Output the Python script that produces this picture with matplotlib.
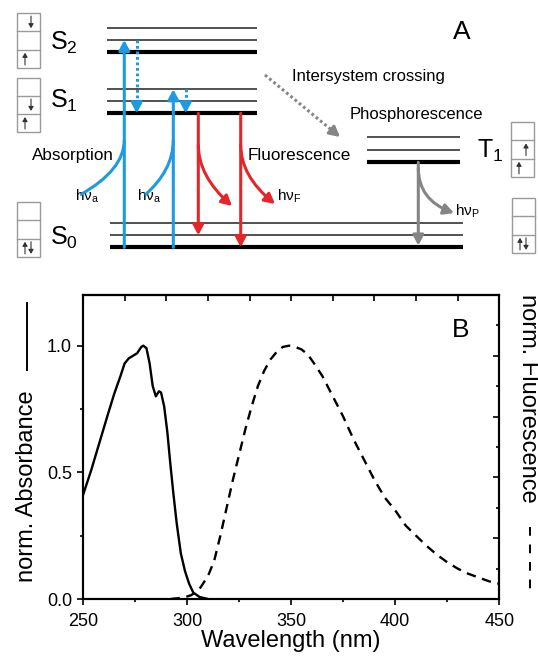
import numpy as np
import matplotlib
matplotlib.use('Agg')
import matplotlib.pyplot as plt
from matplotlib.patches import FancyArrowPatch, PathPatch, Rectangle
from matplotlib.path import Path
from matplotlib.ticker import MultipleLocator

plt.rcParams['font.family'] = ['Liberation Sans', 'DejaVu Sans']
plt.rcParams['mathtext.fontset'] = 'custom'
plt.rcParams['mathtext.rm'] = 'Liberation Sans'
plt.rcParams['mathtext.it'] = 'Liberation Sans:italic'
plt.rcParams['mathtext.default'] = 'regular'

W, H = 538, 656

# ---- panel B: spectra
abs_wl = [250, 254, 258, 262, 265, 268, 270, 272, 274, 276, 278, 279, 280.5,
          282, 283.5, 285, 286.5, 287.5, 289, 290.5, 292, 293.5, 295, 297,
          299, 301, 303, 306, 310]
abs_val = [0.41, 0.51, 0.62, 0.73, 0.81, 0.88, 0.93, 0.95, 0.96, 0.97, 0.995,
           1.0, 0.99, 0.93, 0.84, 0.80, 0.82, 0.815, 0.76, 0.66, 0.53, 0.41,
           0.30, 0.18, 0.11, 0.06, 0.025, 0.008, 0.0]

fl_wl = [292, 298, 302, 306, 310, 313, 316, 319, 322, 325, 328, 331, 334, 337,
         340, 343, 346, 349, 352, 355, 358, 361, 365, 370, 375, 380, 385, 390,
         395, 400, 405, 410, 415, 420, 425, 430, 435, 440, 445, 450]
fl_val = [0.0, 0.005, 0.015, 0.04, 0.09, 0.15, 0.25, 0.36, 0.47, 0.57, 0.67,
          0.76, 0.84, 0.90, 0.945, 0.975, 0.995, 1.0, 0.995, 0.985, 0.965,
          0.93, 0.88, 0.80, 0.72, 0.63, 0.55, 0.47, 0.40, 0.35, 0.29, 0.25,
          0.21, 0.175, 0.145, 0.12, 0.10, 0.085, 0.07, 0.06]

wl_ticks = [250, 300, 350, 400, 450]
wl_top_ticks = [270, 290, 310, 330, 350, 370, 390, 410, 430]
y_ticks = [0.0, 0.5, 1.0]
y_labels = ['0.0', '0.5', '1.0']

# ---- panel A: Jablonski diagram, pixel units from top of figure
s2_levels = [27.7, 40.0, 52.3]
s1_levels = [89.3, 101.0, 113.3]
t1_levels = [137.3, 150.0, 162.3]
s0_levels = [223.3, 235.3, 247.3]

blue = '#1e9be0'
red = '#e3262a'
grey = '#858585'

fig = plt.figure(figsize=(W / 100, H / 100), dpi=100)

# ================= panel B
ax = fig.add_axes([83 / W, 1 - 599 / H, (499.3 - 83) / W, (599 - 295) / H])
ax.plot(abs_wl, abs_val, color='black', lw=1.7)
ax.plot(fl_wl, fl_val, color='black', lw=1.7, dashes=(4, 2.8))
ax.set_xlim(250, 450)
ax.set_ylim(0, 1.2)
ax.set_xticks(wl_ticks)
ax.set_yticks(y_ticks)
ax.set_yticklabels(y_labels)
ax.xaxis.set_minor_locator(MultipleLocator(25))
ax.yaxis.set_minor_locator(MultipleLocator(0.25))
ax.tick_params(which='both', direction='out', width=1.2, labelsize=13)
ax.tick_params(which='major', length=4)
ax.tick_params(which='minor', length=2.5)
ax.tick_params(axis='x', pad=6)
ax.tick_params(axis='y', pad=4)
for s in ax.spines.values():
    s.set_linewidth(1.5)
ax.set_xlabel('Wavelength (nm)', fontsize=17, labelpad=0)

top = ax.secondary_xaxis('top')
top.set_xticks(wl_top_ticks)
top.set_xticklabels([])
top.tick_params(direction='in', length=4, width=1.2)
top.spines['top'].set_linewidth(1.5)

rt = ax.twinx()
rt.set_ylim(0, 5)
rt.yaxis.set_major_locator(MultipleLocator(1))
rt.yaxis.set_minor_locator(MultipleLocator(0.5))
rt.tick_params(which='both', direction='in', width=1.2, labelright=False)
rt.tick_params(which='major', length=4)
rt.tick_params(which='minor', length=2.5)
for s in rt.spines.values():
    s.set_linewidth(1.5)

# ================= overlay in pixel coords (diagram + free labels)
ov = fig.add_axes([0, 0, 1, 1])
ov.set_xlim(0, W)
ov.set_ylim(H, 0)
ov.axis('off')
ov.patch.set_alpha(0)


def levels(ys, x0, x1):
    for i, y in enumerate(ys):
        thick = i == len(ys) - 1
        ov.plot([x0, x1], [y, y], color='black' if thick else '#333333',
                lw=3.0 if thick else 1.2, solid_capstyle='butt')


levels(s2_levels, 107, 257)
levels(s1_levels, 107, 257)
levels(t1_levels, 367, 460)
levels(s0_levels, 110, 463)

HEAD = '-|>,head_length=0.6,head_width=0.32'


def arrow(p0, p1, color, lw=2.2, dotted=False):
    p0 = np.array(p0, float)
    p1 = np.array(p1, float)
    if not dotted:
        ov.add_patch(FancyArrowPatch(p0, p1, arrowstyle=HEAD, mutation_scale=10,
                                     color=color, lw=lw, shrinkA=0, shrinkB=0,
                                     zorder=5))
        return
    d = (p1 - p0) / np.linalg.norm(p1 - p0)
    base = p1 - d * 7
    ov.plot([p0[0], base[0]], [p0[1], base[1]], color=color, lw=lw,
            linestyle=(0, (0.9, 0.9)), zorder=5)
    ov.add_patch(FancyArrowPatch(base, p1, arrowstyle=HEAD, mutation_scale=10,
                                 color=color, lw=lw, shrinkA=0, shrinkB=0,
                                 zorder=5))


def photon(p0, c, p1, color, head=True):
    path = Path([p0, c, p1], [Path.MOVETO, Path.CURVE3, Path.CURVE3])
    if head:
        ov.add_patch(FancyArrowPatch(path=path, arrowstyle=HEAD, mutation_scale=10,
                                     color=color, lw=2.2, zorder=5))
    else:
        ov.add_patch(PathPatch(path, fill=False, ec=color, lw=2.2, zorder=5))


# absorption
arrow((124.3, s0_levels[2]), (124.3, s2_levels[1]), blue)
arrow((173.3, s0_levels[2]), (173.3, s1_levels[0]), blue)
photon((80, 195), (124.3, 170), (124.3, 140), blue, head=False)
photon((145, 195), (173.3, 170), (173.3, 140), blue, head=False)
# internal conversion
arrow((136.7, s2_levels[1]), (136.7, s1_levels[2]), blue, dotted=True)
arrow((185.7, s1_levels[0]), (185.7, s1_levels[2]), blue, dotted=True)
# fluorescence
arrow((198.3, s1_levels[2]), (198.3, s0_levels[1]), red)
arrow((240.7, s1_levels[2]), (240.7, s0_levels[2]), red)
photon((198.3, 145), (198.3, 176), (232, 206), red)
photon((240.7, 145), (240.7, 176), (275, 204), red)
# intersystem crossing
arrow((265, 75), (340, 137), grey, lw=2.2, dotted=True)
# phosphorescence
arrow((418.3, t1_levels[2]), (418.3, 245.5), grey)
photon((418.3, 168), (418.3, 200), (454, 213), grey)

# electron configuration boxes: x, top, bottom, [(cell, up?, dx)]
boxes = [
    (17, 13, 68, [(0, False, 14), (2, True, 8)]),
    (17, 78, 132, [(1, False, 14), (2, True, 8)]),
    (17, 202, 257, [(2, True, 8), (2, False, 14)]),
    (511, 122, 177, [(1, True, 15), (2, True, 8)]),
    (512, 198, 253, [(2, True, 8), (2, False, 14)]),
]
for bx, bt, bb, els in boxes:
    ch = (bb - bt) / 3
    ov.add_patch(Rectangle((bx, bt), 23, bb - bt, fill=False, ec='#9a9a9a', lw=1.0))
    for k in (1, 2):
        ov.plot([bx, bx + 23], [bt + k * ch, bt + k * ch], color='#9a9a9a', lw=1.0)
    for cell, up, dx in els:
        yc = bt + (cell + 0.5) * ch
        y_lo, y_hi = yc + 0.33 * ch, yc - 0.33 * ch
        a, b = ((bx + dx, y_lo), (bx + dx, y_hi)) if up else ((bx + dx, y_hi), (bx + dx, y_lo))
        ov.add_patch(FancyArrowPatch(a, b, arrowstyle='-|>,head_length=0.5,head_width=0.3',
                                     mutation_scale=5, color='#333333', lw=0.8,
                                     shrinkA=0, shrinkB=0))

# state labels
for s, x, y in [('S$_2$', 50, 50), ('S$_1$', 50, 108), ('S$_0$', 50, 245),
                ('T$_1$', 477, 158)]:
    ov.text(x, y, s, fontsize=18, va='baseline', ha='left')

ov.text(453, 39, 'A', fontsize=19, va='baseline')
ov.text(292, 81, 'Intersystem crossing', fontsize=12, va='baseline')
ov.text(350, 119, 'Phosphorescence', fontsize=12, va='baseline')
ov.text(32, 160, 'Absorption', fontsize=12.3, va='baseline')
ov.text(248, 160, 'Fluorescence', fontsize=12.3, va='baseline')
for s, x, y in [('h\u03bd$_a$', 75, 201), ('h\u03bd$_a$', 137, 201),
                ('h\u03bd$_F$', 277, 201), ('h\u03bd$_P$', 455, 216)]:
    ov.text(x, y, s, fontsize=11, va='baseline')

# panel B labels
ov.text(452, 337, 'B', fontsize=19, va='baseline')
ov.text(33, 486, 'norm. Absorbance', fontsize=17, rotation=90,
        rotation_mode='anchor', ha='center', va='baseline')
ov.plot([27, 27], [303, 370], color='black', lw=1.4)
ov.text(522, 398, 'norm. Fluorescence', fontsize=17, rotation=-90,
        rotation_mode='anchor', ha='center', va='baseline')
ov.plot([530, 530], [527, 590], color='black', lw=1.4, dashes=(4.5, 4.5))

fig.savefig('out.png', dpi=100)
